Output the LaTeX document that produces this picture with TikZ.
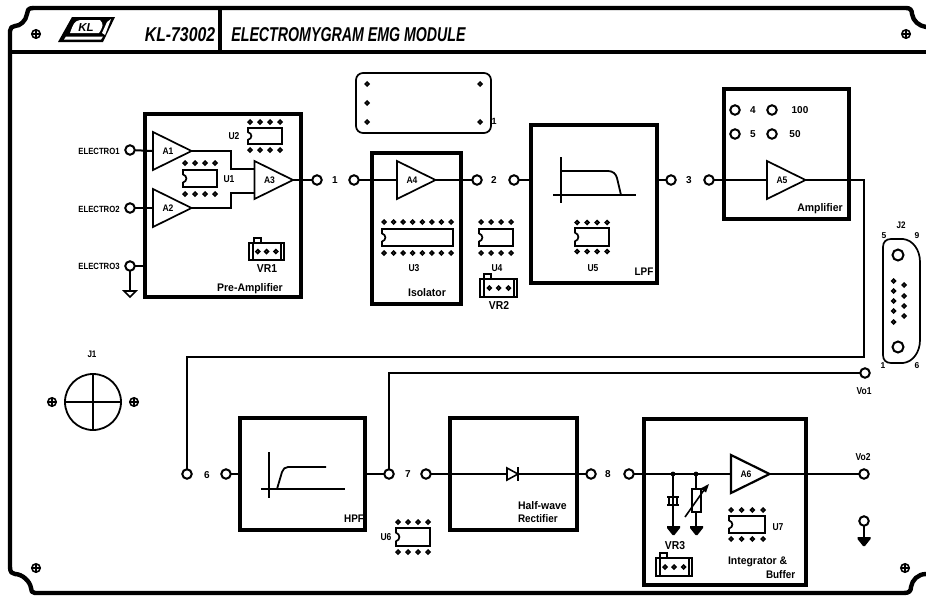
\documentclass[tikz,border=0pt]{standalone}
\usepackage{fontspec}
\setmainfont{Liberation Sans}
\usepackage{graphicx}
\tikzset{
  x=1pt,y=-1pt,
  panel/.style={line width=4.4pt,line join=round,line cap=round},
  blockbox/.style={draw,line width=4pt,minimum width=#1,inner sep=0pt,outer sep=0pt},
  term/.style={draw,circle,line width=2pt,minimum size=9.5pt,inner sep=0pt,outer sep=0.5pt,fill=white},
  wire/.style={line width=2pt},
  thickwire/.style={line width=2.6pt},
  thin part/.style={line width=1.7pt},
  lab/.style={inner sep=0pt,outer sep=0pt,font=\bfseries\fontsize{#1}{#1}\selectfont,align=left},
  lab/.default=9pt,
}
\newcommand\Amp[5][thin part]{%name x y label
  \draw[#1,fill=white,line join=miter] (#3,#4-19) -- (#3+38.5,#4) -- (#3,#4+19) -- cycle;
  \coordinate (#2-in) at (#3,#4);
  \coordinate (#2-out) at (#3+38.5,#4);
  \node[lab=9.5pt] (#2-lab) at (#3+15,#4) {\scalebox{.9}[1]{#5}};}
\newcommand\ICchip[7]{%name x y w h n dy
  \draw[thin part] (#2,#3) -- (#2+#4,#3) -- (#2+#4,#3+#5) -- (#2,#3+#5) -- (#2,#3+.74*#5)
     .. controls (#2+4.5,#3+.66*#5) and (#2+4.5,#3+.34*#5) .. (#2,#3+.26*#5) -- cycle;
  \pgfmathsetmacro\pinstep{(#4-4)/(#6-1)}
  \foreach \k in {1,...,#6}{
    \draw[line width=1.7pt,fill=white] (#2+2+\pinstep*\k-\pinstep,#3-#7) circle[radius=1.8];
    \draw[line width=1.7pt,fill=white] (#2+2+\pinstep*\k-\pinstep,#3+#5+#7) circle[radius=1.8];
  }
  \coordinate (#1) at (#2,#3);}
\newcommand\VRbox[5]{%x y w h tabdx
  \draw[thin part] (#1,#2) rectangle (#1+#3,#2+#4);
  \draw[line width=1.2pt] (#1+4,#2) -- (#1+4,#2+#4) (#1+#3-3,#2) -- (#1+#3-3,#2+#4);
  \draw[line width=1.3pt] (#1+#5,#2) -- (#1+#5,#2-5) -- (#1+#5+7,#2-5) -- (#1+#5+7,#2);
  \foreach \k in {.25,.5,.77}{\draw[line width=1.7pt,fill=white] (#1+\k*#3,#2+.5*#4) circle[radius=1.8];}}
\newcommand\Screw[2]{%
  \draw[line width=1.6pt] (#1,#2) circle[radius=4.2];
  \draw[line width=1.3pt] (#1-4,#2) -- (#1+4,#2) (#1,#2-4) -- (#1,#2+4);}
\newcommand\Gnd[2]{%
  \fill (#1-6.5,#2-1) -- (#1+6.5,#2-1) -- (#1+6.5,#2+1) -- (#1+1,#2+8) -- (#1-1,#2+8) -- (#1-6.5,#2+1) -- cycle;}
\newcommand\Pin[2]{\draw[line width=1.7pt,fill=white] (#1,#2) circle[radius=1.8];}
\begin{document}
\begin{tikzpicture}
\useasboundingbox (0,0) rectangle (926,597);
% ---- panel frame
\draw[panel] (33,8) -- (906,8) .. controls (910,8) and (912,10) .. (912,14)
  .. controls (913,21) and (919,26) .. (926,27);
\draw[panel] (33,8) .. controls (28,8) and (27,11) .. (27,14)
  .. controls (26,21) and (20,26) .. (15,26) .. controls (12,26) and (10,28) .. (10,31)
  -- (10,567) .. controls (10,572) and (12,574) .. (15,574)
  .. controls (22,574) and (30,581) .. (31,588) .. controls (31,591) and (32,593) .. (35,593)
  -- (904,593) .. controls (909,593) and (911,591) .. (911,587)
  .. controls (912,580) and (918,574) .. (926,574);
\draw[panel,line cap=butt] (10,52) -- (926,52);
\draw[panel,line cap=butt] (220,8) -- (220,52);
\Screw{36}{34}\Screw{906}{34}\Screw{36}{568}\Screw{905}{568}
% ---- logo
\fill (58,42) -- (72,17) -- (115,17) -- (103,42) -- cycle;
\fill[white] (66,36.5) -- (64,39.5) -- (101,39.5) -- (103,36.5) -- cycle;
\fill[white] (107,22) -- (111,19) -- (105,35) -- (102,33) -- cycle;
\fill[white] (80,20) .. controls (74,21) and (73,25) .. (70,33) -- (99,33)
  .. controls (103,27) and (104,24) .. (100,20) -- cycle;
\fill (66,33.5) -- (70,31) -- (69,34) -- cycle;
\node[inner sep=0pt] (logotext) at (86,27.5) {\bfseries\itshape\fontsize{11.5}{11.5}\selectfont KL};
% ---- title
\node[inner sep=0pt,anchor=center] (partno) at (180,35) {\scalebox{.79}[1]{\bfseries\itshape\fontsize{20}{20}\selectfont KL-73002}};
\node[inner sep=0pt,anchor=center] (title) at (348.5,35) {\scalebox{.71}[1]{\bfseries\itshape\fontsize{20}{20}\selectfont ELECTROMYGRAM EMG MODULE}};
% ---- blocks
\node[blockbox=156pt,minimum height=183pt] (pre) at (223,205.5) {};
\node[blockbox=89pt,minimum height=151pt] (iso) at (416.5,228.5) {};
\node[blockbox=126pt,minimum height=158pt] (lpf) at (594,204) {};
\node[blockbox=125pt,minimum height=130pt] (ampl) at (786.5,154) {};
\node[blockbox=125pt,minimum height=112pt] (hpf) at (302.5,474) {};
\node[blockbox=127pt,minimum height=112pt] (rect) at (513.5,474) {};
\node[blockbox=162pt,minimum height=166pt] (intg) at (725,502) {};
% ---- terminals
\node[term] (e1) at (130,150) {};
\node[term] (e2) at (130,208) {};
\node[term] (e3) at (130,266) {};
\node[term] (t1a) at (317,180) {};
\node[term] (t1b) at (354,180) {};
\node[term] (t2a) at (477,180) {};
\node[term] (t2b) at (514,180) {};
\node[term] (t3a) at (671,180) {};
\node[term] (t3b) at (709,180) {};
\node[term] (t4) at (735,110) {};
\node[term] (t100) at (772,110) {};
\node[term] (t5) at (735,134) {};
\node[term] (t50) at (772,134) {};
\node[term] (t6a) at (187,474) {};
\node[term] (t6b) at (226,474) {};
\node[term] (t7a) at (389,474) {};
\node[term] (t7b) at (426,474) {};
\node[term] (t8a) at (591,474) {};
\node[term] (t8b) at (629,474) {};
\node[term] (vo1) at (865,373) {};
\node[term] (vo2) at (864,474) {};
\node[term] (vgnd) at (864,521) {};
% ---- amplifiers
\Amp{a1}{153}{151}{A1}
\Amp{a2}{153}{208}{A2}
\Amp{a3}{254.5}{180}{A3}
\Amp{a4}{397}{180}{A4}
\Amp{a5}{767}{180}{A5}
\Amp[line width=2.2pt]{a6}{731}{474}{A6}
% ---- wires
\draw[wire] (e1) -- (a1-in);
\draw[wire] (e2) -- (a2-in);
\draw[wire] (e3) -- (e3 -| pre.west);
\coordinate (g3) at (130,291);
\draw[line width=1.4pt] (e3) -- (g3);
\draw[line width=1.6pt] (g3) ++(-6,0) -- ++(12,0) -- ++(-6,6) -- cycle;
\draw[wire] (a1-out) -- (231,151) -- (231,168.5) -- (254.5,168.5);
\draw[wire] (a2-out) -- (231,208) -- (231,193) -- (254.5,193);
\draw[wire] (a3-out) -- (t1a);
\draw[wire] (t1b) -- (a4-in);
\draw[wire] (a4-out) -- (t2a);
\draw[wire] (t2b) -- (t2b -| lpf.west);
\draw[wire] (t3a) -- (t3a -| lpf.east);
\draw[wire] (t3b) -- (a5-in);
\draw[wire] (a5-out) -- (864,180) -- (864,357) -- (187,357) -- (t6a);
\draw[wire] (t7a) -- (389,373) -- (vo1);
\draw[wire] (t6b) -- (t6b -| hpf.west);
\draw[wire] (t7a) -- (t7a -| hpf.east);
\coordinate (dio) at (507,474);
\coordinate (dik) at (518,474);
\draw[thickwire] (t7b) -- (dio);
\draw[thickwire] (dik) -- (t8a);
\draw[line width=1.6pt,fill=white] (dio) ++(0,-6) -- (dik) -- ++(-11,6) -- cycle;
\draw[line width=1.8pt] (518,467) -- (518,481);
\draw[thickwire] (t8b) -- (a6-in);
\draw[thickwire] (a6-out) -- (vo2);
% ---- integrator parts
\coordinate (j1) at (673,474);
\coordinate (j2) at (696,474);
\fill (j1) circle[radius=2.4] (j2) circle[radius=2.4];
\draw[line width=1.4pt] (j1) -- (673,527);
\draw[line width=1.4pt] (j2) -- (696,527);
\draw[line width=1.5pt] (667,497) -- (679,497) (667,505) -- (679,505)
  (669,497) -- (669,505) (673,497) -- (673,505) (677,497) -- (677,505);
\draw[line width=1.7pt,fill=white] (692,489) rectangle (701,512);
\draw[line width=1.6pt] (685,517) -- (704,490);
\fill (709,484) -- (700.5,488.5) -- (706,492.5) -- cycle;
\Gnd{673.5}{527}\Gnd{696.5}{527}
\draw[line width=1.7pt] (vgnd) -- (864,538);
\Gnd{864}{538}
% ---- filter curves
\draw[line width=1.8pt] (561,157) -- (561,203) (553,195) -- (636,195);
\draw[line width=1.8pt] (561,171) -- (608,171) .. controls (613,171) and (616,174) .. (617,178) -- (621,195);
\draw[line width=1.8pt] (269,452) -- (269,498) (261,489) -- (345,489);
\draw[line width=1.8pt] (277,489) -- (282,472) .. controls (283,469) and (285,467) .. (288,467) -- (326,467);
% ---- chips
\ICchip{u1}{183}{170}{34}{17}{4}{7}
\ICchip{u2}{248}{128}{34}{16}{4}{6}
\ICchip{u3}{382}{229}{71}{17}{8}{7}
\ICchip{u4}{479}{229}{34}{17}{4}{7}
\ICchip{u5}{575}{228}{34}{18}{4}{5.5}
\ICchip{u6}{396}{528}{34}{18}{4}{6}
\ICchip{u7}{729}{516}{36}{17}{4}{6}
\VRbox{249}{243}{35}{17}{5}
\VRbox{480}{279}{37}{18}{4}
\VRbox{656}{558}{36}{18}{4}
% ---- top board
\draw[line width=1.7pt,rounded corners=7pt] (356,73) rectangle (491,133);
\Pin{367}{84}\Pin{367}{103}\Pin{367}{122}\Pin{480}{84}\Pin{480}{122}
% ---- J1
\draw[line width=1.8pt] (93,402) circle[radius=28];
\draw[line width=1.8pt] (65,402) -- (121,402) (93,374) -- (93,430);
\Screw{52}{402}\Screw{134}{402}
% ---- J2
\draw[line width=1.7pt] (891,239) -- (903,239) .. controls (913,240) and (920,250) .. (920,262)
  -- (920,340) .. controls (920,352) and (913,362) .. (903,363) -- (891,363)
  .. controls (886,363) and (883,360) .. (883,355) -- (883,247) .. controls (883,242) and (886,239) .. (891,239) -- cycle;
\draw[line width=2pt] (898,255) circle[radius=5.5] (898,347) circle[radius=5.5];
\foreach \yy in {281,291,301,311,322}{\Pin{893.5}{\yy}}
\foreach \yy in {285,296,306,316}{\Pin{904}{\yy}}
% ---- labels
\node[lab=9pt] (le1) at (99,151) {\scalebox{.86}[1]{ELECTRO1}};
\node[lab=9pt] (le2) at (99,209) {\scalebox{.86}[1]{ELECTRO2}};
\node[lab=9pt] (le3) at (99,266) {\scalebox{.86}[1]{ELECTRO3}};
\node[lab=10pt] (n1) at (335,180) {1};
\node[lab=10pt] (n2) at (494,180) {2};
\node[lab=10pt] (n3) at (689,180) {3};
\node[lab=10pt] (n6) at (207,475) {6};
\node[lab=10pt] (n7) at (408,474) {7};
\node[lab=10pt] (n8) at (608,474) {8};
\node[lab=10pt] (n4) at (753,110) {4};
\node[lab=10pt] (n5) at (753,134) {5};
\node[lab=10pt] (n100) at (800,110) {100};
\node[lab=10pt] (n50) at (795,134) {50};
\node[lab=10pt] (lu1) at (229,179) {\scalebox{.85}[1]{U1}};
\node[lab=10pt] (lu2) at (234,136) {\scalebox{.85}[1]{U2}};
\node[lab=10pt] (lu3) at (414,268) {\scalebox{.85}[1]{U3}};
\node[lab=10pt] (lu4) at (497,268) {\scalebox{.85}[1]{U4}};
\node[lab=10pt] (lu5) at (593,268) {\scalebox{.85}[1]{U5}};
\node[lab=10pt] (lu6) at (386,537) {\scalebox{.85}[1]{U6}};
\node[lab=10pt] (lu7) at (778,527) {\scalebox{.85}[1]{U7}};
\node[lab=11.5pt] (lv1) at (267,269) {\scalebox{.9}[1]{VR1}};
\node[lab=11.5pt] (lv2) at (499,305) {\scalebox{.9}[1]{VR2}};
\node[lab=11.5pt] (lv3) at (675,546) {\scalebox{.9}[1]{VR3}};
\node[lab=11pt] (lpre) at (250,289) {\scalebox{.95}[1]{Pre-Amplifier}};
\node[lab=11pt] (liso) at (427,293) {\scalebox{.95}[1]{Isolator}};
\node[lab=11pt] (llpf) at (644,272) {\scalebox{.9}[1]{LPF}};
\node[lab=11pt] (lamp) at (820,209) {\scalebox{.95}[1]{Amplifier}};
\node[lab=11pt] (lhpf) at (354,519) {\scalebox{.9}[1]{HPF}};
\node[lab=11pt,anchor=west] (lhw) at (518,506) {\scalebox{.95}[1]{Half-wave}};
\node[lab=11pt,anchor=west] (lrc) at (518,519) {\scalebox{.9}[1]{Rectifier}};
\node[lab=11pt,anchor=west] (lin) at (728,562) {\scalebox{.95}[1]{Integrator \&}};
\node[lab=11pt,anchor=west] (lbu) at (766,575) {\scalebox{.9}[1]{Buffer}};
\node[lab=10pt] (lvo1) at (864,391) {\scalebox{.85}[1]{Vo1}};
\node[lab=10pt] (lvo2) at (863,457) {\scalebox{.85}[1]{Vo2}};
\node[lab=9.5pt] (lj1) at (92,354) {\scalebox{.85}[1]{J1}};
\node[lab=9.5pt] (lj2) at (901,225) {\scalebox{.85}[1]{J2}};
\node[lab=8.5pt] (p5) at (884,236) {5};
\node[lab=8.5pt] (p9) at (917,236) {9};
\node[lab=8.5pt] (p1) at (883,366) {1};
\node[lab=8.5pt] (p6) at (917,366) {6};
\node[lab=9pt] (pb1) at (494,121) {1};
\end{tikzpicture}
\end{document}
